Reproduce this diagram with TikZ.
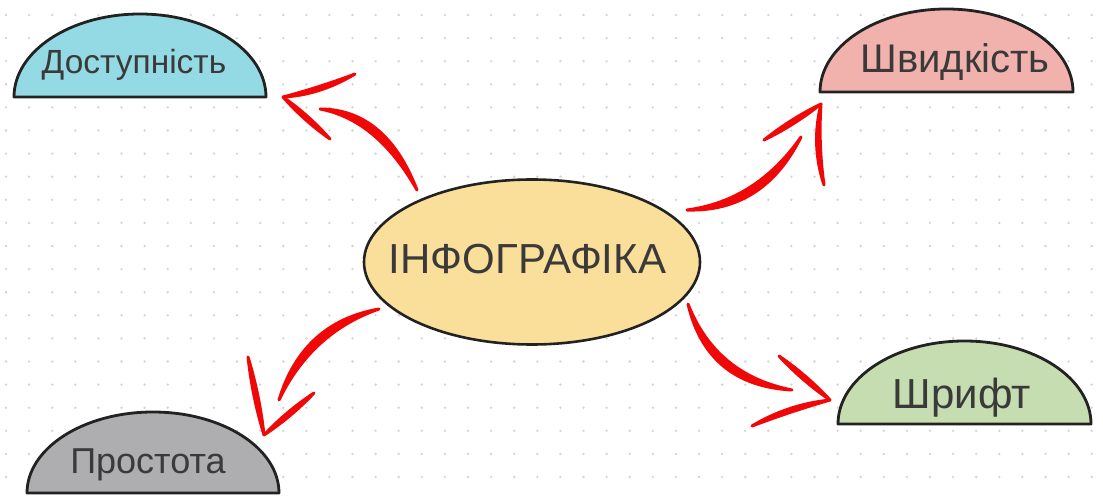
\documentclass[tikz,border=0pt]{standalone}
\usepackage{fontspec}
\setmainfont{Liberation Sans}
\usetikzlibrary{shapes.geometric,calc}

\definecolor{inkred}{RGB}{240,8,8}
\definecolor{outline}{RGB}{34,34,34}
\definecolor{labeltext}{RGB}{58,58,58}
\definecolor{griddot}{RGB}{212,212,212}
\definecolor{fillcyan}{RGB}{148,218,228}
\definecolor{fillpink}{RGB}{241,177,172}
\definecolor{fillgray}{RGB}{174,174,176}
\definecolor{fillgreen}{RGB}{197,221,176}
\definecolor{fillyellow}{RGB}{250,223,155}

\tikzset{
  capshape/.style={draw=outline, line width=2.8pt, line join=round},
  capfont/.style={text=labeltext, inner sep=0pt, anchor=base},
  marker/.style={inkred, draw=inkred, line width=3pt, line join=round, line cap=round},
}

% one tapered marker stroke along a quadratic curve:
% start, quadratic control point, end, half width of the swell
\newcommand\brushstroke[4]{%
  \filldraw[marker]
    let \p1=(#1), \p2=(#3), \n1={atan2(\y2-\y1,\x2-\x1)+90}, \n2={\n1-180} in
    (#1) .. controls ($(#1)!2/3!(#2)+(\n1:#4)$) and ($(#3)!2/3!(#2)+(\n1:#4)$) .. (#3)
         .. controls ($(#3)!2/3!(#2)+(\n2:#4)$) and ($(#1)!2/3!(#2)+(\n2:#4)$) .. (#1) -- cycle;}

\begin{document}
\begin{tikzpicture}[x=1pt, y=-1pt]
\useasboundingbox (0,0) rectangle (1103,497);
\fill[white] (0,0) rectangle (1103,497);

% dotted paper
\foreach \i in {0,...,47}
  \foreach \j in {0,...,21}
    \fill[griddot] ({6+23.1*\i},{15+23.1*\j}) circle (1.3pt);

% half-ellipse caps
\draw[capshape, fill=fillcyan] (14,97) arc[start angle=180, end angle=0, x radius=126pt, y radius=83pt] -- cycle;
\draw[capshape, fill=fillpink] (820,92) arc[start angle=180, end angle=0, x radius=126.5pt, y radius=83pt] -- cycle;
\draw[capshape, fill=fillgray] (27,493) arc[start angle=180, end angle=0, x radius=126pt, y radius=81pt] -- cycle;
\draw[capshape, fill=fillgreen] (838,424) arc[start angle=180, end angle=0, x radius=126.5pt, y radius=83pt] -- cycle;

\node[capfont, font=\fontsize{33.5}{38}\selectfont] (access) at (134,74) {Доступність};
\node[capfont, font=\fontsize{40}{45}\selectfont] (speed) at (955,73) {Швидкість};
\node[capfont, font=\fontsize{36}{41}\selectfont] (simple) at (148,473) {Простота};
\node[capfont, font=\fontsize{42}{48}\selectfont] (typeface) at (962,408) {Шрифт};

% central topic
\node[ellipse, draw=outline, line width=2.6pt, fill=fillyellow,
      minimum width=336pt, minimum height=165pt, inner sep=0pt] (info) at (532,262) {};
\node[capfont, font=\fontsize{42}{47}\selectfont] (infotext) at (527.5,273) {ІНФОГРАФІКА};

% arrow towards Доступність
\coordinate (a1s) at (417,190); \coordinate (a1c) at (381.5,114.5); \coordinate (a1e) at (320,109);
\coordinate (a1t) at (283,97);
\coordinate (a1u) at (355,74);  \coordinate (a1uc) at (319,91.5);
\coordinate (a1l) at (330,139); \coordinate (a1lc) at (306.5,118);
\brushstroke{a1s}{a1c}{a1e}{4.5pt}
\brushstroke{a1t}{a1uc}{a1u}{2.5pt}
\brushstroke{a1t}{a1lc}{a1l}{2.5pt}

% arrow towards Швидкість
\coordinate (a2s) at (687,210); \coordinate (a2c) at (760,206.5); \coordinate (a2e) at (801,137);
\coordinate (a2t) at (821,104);
\coordinate (a2u) at (764,140); \coordinate (a2uc) at (792.5,122);
\coordinate (a2l) at (824,185); \coordinate (a2lc) at (814.5,144.5);
\brushstroke{a2s}{a2c}{a2e}{4.5pt}
\brushstroke{a2t}{a2uc}{a2u}{2.5pt}
\brushstroke{a2t}{a2lc}{a2l}{2.5pt}

% arrow towards Простота
\coordinate (a3s) at (379,309); \coordinate (a3c) at (307,327.5); \coordinate (a3e) at (279,400);
\coordinate (a3t) at (264,435);
\coordinate (a3u) at (248,357); \coordinate (a3uc) at (256,396);
\coordinate (a3l) at (314,393); \coordinate (a3lc) at (289,414);
\brushstroke{a3s}{a3c}{a3e}{4.5pt}
\brushstroke{a3t}{a3uc}{a3u}{2.5pt}
\brushstroke{a3t}{a3lc}{a3l}{2.5pt}

% arrow towards Шрифт
\coordinate (a4s) at (688,304); \coordinate (a4c) at (711.4,380.2); \coordinate (a4e) at (792,390);
\coordinate (a4t) at (830,400);
\coordinate (a4u) at (779,356); \coordinate (a4uc) at (804.5,378);
\coordinate (a4l) at (752,426); \coordinate (a4lc) at (789,408);
\brushstroke{a4s}{a4c}{a4e}{4.5pt}
\brushstroke{a4t}{a4uc}{a4u}{2.5pt}
\brushstroke{a4t}{a4lc}{a4l}{2.5pt}
\end{tikzpicture}
\end{document}
